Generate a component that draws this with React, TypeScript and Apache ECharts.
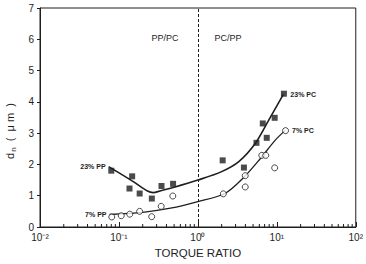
import React, { useEffect, useRef } from "react";
import * as echarts from "echarts";

// Measured droplet diameters, 23% blend (filled squares)
const SQ_TORQUE = [0.080, 0.136, 0.147, 0.183, 0.261, 0.346, 0.485, 2.06, 3.83, 5.52, 6.64, 7.45, 9.39, 12.3];
const SQ_DN = [1.80, 1.23, 1.62, 1.07, 0.91, 1.31, 1.38, 2.13, 1.90, 2.69, 3.31, 2.85, 3.49, 4.26];

// Measured droplet diameters, 7% blend (open circles)
const CI_TORQUE = [0.081, 0.107, 0.137, 0.183, 0.26, 0.343, 0.481, 2.10, 3.98, 3.98, 6.45, 7.24, 9.39, 12.9];
const CI_DN = [0.32, 0.36, 0.41, 0.50, 0.33, 0.66, 0.99, 1.06, 1.64, 1.28, 2.29, 2.29, 1.89, 3.08];

// Fitted trend curves
const FIT23_TORQUE = [0.074, 0.15, 0.23, 0.27, 0.34, 0.5, 1.0, 2.0, 3.3, 5.3, 7.8, 12.1];
const FIT23_DN = [1.93, 1.46, 1.15, 1.10, 1.16, 1.27, 1.50, 1.77, 2.09, 2.66, 3.39, 4.24];
const FIT7_TORQUE = [0.076, 0.2, 0.45, 1.0, 2.2, 3.8, 6.2, 9.5, 12.7];
const FIT7_DN = [0.40, 0.47, 0.60, 0.81, 1.07, 1.58, 2.19, 2.77, 3.08];

// Curve end labels: [start label, end label]
const FIT23_LABELS = ["23% PP", "23% PC"];
const FIT7_LABELS = ["7% PP", "7% PC"];

const REGION_LABELS = ["PP/PC", "PC/PP"];
const X_TICK_LABELS = ["10⁻²", "10⁻¹", "10⁰", "10¹", "10²"];
const X_MINOR = [0.01, 0.1, 1, 10].flatMap((d) => [2, 3, 4, 5, 6, 7, 8, 9].map((m) => m * d));

const INK = "#1e1e1e";
const FONT = "'Liberation Sans', Arial, Helvetica, sans-serif";

function curveData(xs: number[], ys: number[], labels: string[]) {
  return xs.map((x, i) => {
    const item: any = { value: [x, ys[i]] };
    if (i === 0 || i === xs.length - 1) {
      item.label = {
        show: true,
        formatter: i === 0 ? labels[0] : labels[1],
        position: i === 0 ? "left" : "right",
        distance: i === 0 ? 3 : 7,
        fontSize: 7,
        fontWeight: "bold",
        color: INK,
        fontFamily: FONT,
      };
    }
    return item;
  });
}

export default function App() {
  const ref = useRef<HTMLDivElement>(null);

  useEffect(() => {
    if (!ref.current) return;
    const chart = echarts.init(ref.current, null, { renderer: "svg" });
    chart.setOption({
      animation: false,
      backgroundColor: "#ffffff",
      textStyle: { fontFamily: FONT, color: INK },
      grid: {
        left: 40,
        right: 8,
        top: 8,
        bottom: 32,
        show: true,
        borderColor: INK,
        borderWidth: 1,
      },
      xAxis: {
        type: "log",
        logBase: 10,
        min: 0.01,
        max: 100,
        name: "TORQUE RATIO",
        nameLocation: "middle",
        nameGap: 20,
        nameTextStyle: { fontSize: 11.5, color: INK, fontFamily: FONT },
        axisLine: { show: true, lineStyle: { color: INK, width: 1 } },
        axisTick: { show: true, inside: true, length: 5, lineStyle: { color: INK } },
        axisLabel: {
          fontSize: 10,
          color: INK,
          margin: 5,
          formatter: (v: number) => X_TICK_LABELS[Math.round(Math.log10(v)) + 2],
        },
        splitLine: { show: false },
      },
      yAxis: {
        type: "value",
        min: 0,
        max: 7,
        interval: 1,
        axisLine: { show: true, lineStyle: { color: INK, width: 1 } },
        axisTick: { show: true, inside: false, length: 3, lineStyle: { color: INK } },
        axisLabel: { fontSize: 10, color: INK, margin: 6 },
        splitLine: { show: false },
      },
      graphic: [
        {
          type: "text",
          x: 10,
          y: 131,
          rotation: Math.PI / 2,
          style: {
            text: "{d|d}{n|n}{d|  (  μ m  )}",
            align: "center",
            verticalAlign: "middle",
            fill: INK,
            rich: {
              d: { fontSize: 11, fontFamily: FONT, fill: INK, lineHeight: 14 },
              n: { fontSize: 8, fontFamily: FONT, fill: INK, lineHeight: 14, verticalAlign: "bottom", padding: [4, 0, 0, 1] },
            },
          },
        },
        {
          type: "text",
          x: 165,
          y: 38,
          style: { text: REGION_LABELS[0], fontSize: 9, fontFamily: FONT, fill: INK, align: "center", verticalAlign: "middle" },
        },
        {
          type: "text",
          x: 228,
          y: 38,
          style: { text: REGION_LABELS[1], fontSize: 9, fontFamily: FONT, fill: INK, align: "center", verticalAlign: "middle" },
        },
      ],
      series: [
        {
          name: "fit23",
          type: "line",
          data: curveData(FIT23_TORQUE, FIT23_DN, FIT23_LABELS),
          smooth: 0.3,
          showSymbol: true,
          symbol: "circle",
          symbolSize: 0.01,
          itemStyle: { color: INK },
          lineStyle: { color: INK, width: 1.6 },
          markLine: {
            silent: true,
            symbol: "none",
            label: { show: false },
            lineStyle: { color: INK, type: [3, 2], width: 1 },
            data: [{ xAxis: 1 }],
          },
          z: 3,
        },
        {
          name: "fit7",
          type: "line",
          data: curveData(FIT7_TORQUE, FIT7_DN, FIT7_LABELS),
          smooth: 0.3,
          showSymbol: true,
          symbol: "circle",
          symbolSize: 0.01,
          itemStyle: { color: INK },
          lineStyle: { color: INK, width: 1.3 },
          z: 3,
        },
        {
          name: "23%",
          type: "scatter",
          data: SQ_TORQUE.map((x, i) => [x, SQ_DN[i]]),
          symbol: "rect",
          symbolSize: 6,
          itemStyle: { color: INK },
          z: 4,
        },
        {
          name: "7%",
          type: "scatter",
          data: CI_TORQUE.map((x, i) => [x, CI_DN[i]]),
          symbol: "circle",
          symbolSize: 6,
          itemStyle: { color: "#ffffff", borderColor: INK, borderWidth: 1 },
          z: 5,
        },
        {
          name: "minorTicks",
          type: "custom",
          silent: true,
          data: X_MINOR.map((v) => [v, 0]),
          renderItem: (_params: any, api: any) => {
            const p = api.coord([api.value(0), 0]);
            return {
              type: "line",
              shape: { x1: p[0], y1: p[1], x2: p[0], y2: p[1] - 3 },
              style: { stroke: INK, lineWidth: 1 },
            };
          },
          z: 2,
        },
      ],
    });
    return () => chart.dispose();
  }, []);

  return (
    <div
      ref={ref}
      style={{ position: "fixed", left: 0, top: 0, width: 366, height: 264 }}
    />
  );
}
